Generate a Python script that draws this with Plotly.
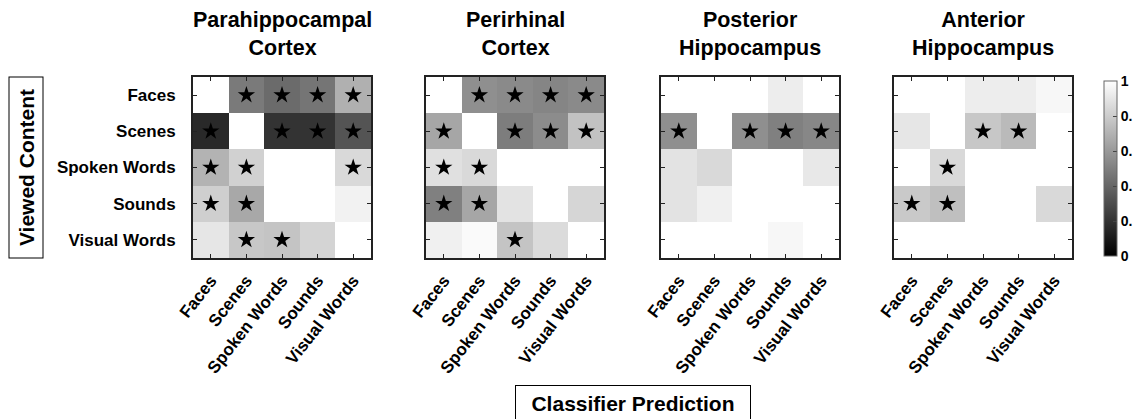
import plotly.graph_objects as go

categories = ["Faces", "Scenes", "Spoken Words", "Sounds", "Visual Words"]
titles = ["Parahippocampal<br>Cortex", "Perirhinal<br>Cortex", "Posterior<br>Hippocampus", "Anterior<br>Hippocampus"]

# rows = viewed content, cols = classifier prediction
phc_values = [
    [1.00, 0.48, 0.42, 0.46, 0.69],
    [0.16, 1.00, 0.20, 0.20, 0.33],
    [0.70, 0.82, 1.00, 1.00, 0.85],
    [0.81, 0.66, 1.00, 1.00, 0.95],
    [0.90, 0.78, 0.77, 0.83, 1.00],
]
prc_values = [
    [1.00, 0.56, 0.54, 0.52, 0.54],
    [0.65, 1.00, 0.49, 0.55, 0.76],
    [0.88, 0.85, 1.00, 1.00, 1.00],
    [0.50, 0.65, 0.89, 1.00, 0.84],
    [0.94, 0.98, 0.77, 0.86, 1.00],
]
phipp_values = [
    [1.00, 1.00, 1.00, 0.93, 1.00],
    [0.56, 1.00, 0.56, 0.50, 0.53],
    [0.89, 0.85, 1.00, 1.00, 0.91],
    [0.89, 0.94, 1.00, 1.00, 1.00],
    [1.00, 1.00, 1.00, 0.97, 1.00],
]
ahipp_values = [
    [1.00, 1.00, 0.93, 0.93, 0.97],
    [0.90, 1.00, 0.78, 0.73, 1.00],
    [1.00, 0.85, 1.00, 1.00, 1.00],
    [0.79, 0.75, 1.00, 1.00, 0.85],
    [1.00, 1.00, 1.00, 1.00, 1.00],
]

# significance stars (1 = star)
phc_stars = [
    [0, 1, 1, 1, 1],
    [1, 0, 1, 1, 1],
    [1, 1, 0, 0, 1],
    [1, 1, 0, 0, 0],
    [0, 1, 1, 0, 0],
]
prc_stars = [
    [0, 1, 1, 1, 1],
    [1, 0, 1, 1, 1],
    [1, 1, 0, 0, 0],
    [1, 1, 0, 0, 0],
    [0, 0, 1, 0, 0],
]
phipp_stars = [
    [0, 0, 0, 0, 0],
    [1, 0, 1, 1, 1],
    [0, 0, 0, 0, 0],
    [0, 0, 0, 0, 0],
    [0, 0, 0, 0, 0],
]
ahipp_stars = [
    [0, 0, 0, 0, 0],
    [0, 0, 1, 1, 0],
    [0, 1, 0, 0, 0],
    [1, 1, 0, 0, 0],
    [0, 0, 0, 0, 0],
]

cbar_ticks = [0, 0.2, 0.4, 0.6, 0.8, 1]
cbar_ticktext = ["0", "0.", "0.", "0.", "0.", "1"]

W, H = 1134, 419
FONT = "Liberation Sans, Arial, Helvetica, sans-serif"

panels = [
    (phc_values, phc_stars),
    (prc_values, prc_stars),
    (phipp_values, phipp_stars),
    (ahipp_values, ahipp_stars),
]
panel_left_px = [193, 426, 661, 894]
panel_w_px = 178
panel_top_px, panel_bot_px = 77, 258

fig = go.Figure()
colorscale = [[0, "black"], [1, "white"]]

for i, (vals, stars) in enumerate(panels):
    xa = "x" if i == 0 else f"x{i+1}"
    ya = "y" if i == 0 else f"y{i+1}"
    fig.add_trace(go.Heatmap(
        z=vals, x=categories, y=categories, xaxis=xa, yaxis=ya,
        colorscale=colorscale, zmin=0, zmax=1,
        showscale=(i == 0),
        colorbar=dict(
            x=1104 / W, xanchor="left", xpad=0,
            y=(H - 256) / H, yanchor="bottom", ypad=0,
            len=175 / H, lenmode="fraction",
            thickness=13, thicknessmode="pixels",
            tickvals=cbar_ticks, ticktext=cbar_ticktext,
            ticks="inside", ticklen=4, tickcolor="#444", tickwidth=1,
            tickfont=dict(family=FONT, size=14, color="black", weight="bold"),
            outlinewidth=1, outlinecolor="#666",
        ) if i == 0 else None,
        hoverinfo="skip",
    ))
    sx, sy = [], []
    for r, row in enumerate(stars):
        for c, s in enumerate(row):
            if s:
                sx.append(categories[c])
                sy.append(categories[r])
    fig.add_trace(go.Scatter(
        x=sx, y=sy, xaxis=xa, yaxis=ya, mode="markers",
        marker=dict(symbol="star", size=13, color="black", line=dict(width=0)),
        showlegend=False, hoverinfo="skip",
    ))

    x0 = panel_left_px[i] / W
    x1 = (panel_left_px[i] + panel_w_px) / W
    y0 = (H - panel_bot_px) / H
    y1 = (H - panel_top_px) / H
    axis_common = dict(
        showline=True, linecolor="#222", linewidth=2, mirror="allticks",
        ticks="inside", ticklen=4, tickwidth=1, tickcolor="#222",
        showgrid=False, zeroline=False, type="category", automargin=False,
    )
    xkey = "xaxis" if i == 0 else f"xaxis{i+1}"
    ykey = "yaxis" if i == 0 else f"yaxis{i+1}"
    fig.update_layout(**{
        xkey: dict(domain=[x0, x1], anchor=ya, tickangle=-52,
                   categoryorder="array", categoryarray=categories,
                   range=[-0.5, 4.5],
                   tickfont=dict(family=FONT, size=17, color="black", weight="bold"),
                   ticklabelstandoff=4, **axis_common),
        ykey: dict(domain=[y0, y1], anchor=xa,
                   categoryorder="array", categoryarray=categories,
                   range=[4.5, -0.5],
                   showticklabels=(i == 0),
                   tickfont=dict(family=FONT, size=17, color="black", weight="bold"),
                   ticklabelstandoff=12, **axis_common),
    })
    fig.add_annotation(
        x=(x0 + x1) / 2, y=1 - 34 / H, xref="paper", yref="paper",
        text=titles[i], showarrow=False, xanchor="center", yanchor="middle",
        font=dict(family=FONT, size=21.5, color="black", weight="bold"),
    )

fig.add_annotation(
    x=25.5 / W, y=1 - 168 / H, xref="paper", yref="paper",
    text="Viewed Content", textangle=-90, showarrow=False,
    xanchor="center", yanchor="middle",
    font=dict(family=FONT, size=21, color="black", weight="bold"),
    bordercolor="black", borderwidth=1, borderpad=2, width=176, height=29,
)
fig.add_annotation(
    x=633 / W, y=1 - 403 / H, xref="paper", yref="paper",
    text="Classifier Prediction", showarrow=False,
    xanchor="center", yanchor="middle",
    font=dict(family=FONT, size=21, color="black", weight="bold"),
    bordercolor="black", borderwidth=1, borderpad=2, width=230, height=30,
)

fig.update_layout(
    width=W, height=H, margin=dict(l=0, r=0, t=0, b=0, autoexpand=False),
    paper_bgcolor="white", plot_bgcolor="white", showlegend=False,
)

fig.write_html("out.html")
